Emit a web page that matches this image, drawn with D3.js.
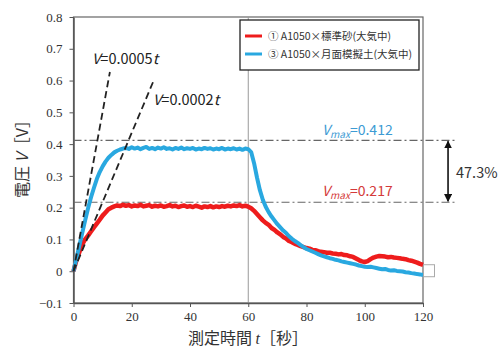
<!DOCTYPE html>
<html>
<head>
<meta charset="utf-8">
<script src="https://cdn.jsdelivr.net/npm/d3@7"></script>
<style>
  body { margin: 0; background: #fff; }
  svg { display: block; }
</style>
</head>
<body>
<div id="chart"></div>
<script>
// tick values
const xTicks = [0, 20, 40, 60, 80, 100, 120];
const yTicks = [-0.1, 0, 0.1, 0.2, 0.3, 0.4, 0.5, 0.6, 0.7, 0.8];

// measured voltage, one value per second (t = 0..120)
const redV = [
  0.000, 0.035, 0.060, 0.085, 0.100, 0.112, 0.125, 0.138, 0.150, 0.162,
  0.175, 0.185, 0.195, 0.200, 0.204, 0.207, 0.205, 0.209, 0.206, 0.208,
  0.204, 0.207, 0.205, 0.209, 0.204, 0.206, 0.208, 0.203, 0.206, 0.204,
  0.207, 0.203, 0.205, 0.208, 0.204, 0.206, 0.202, 0.205, 0.207, 0.203,
  0.205, 0.202, 0.206, 0.203, 0.200, 0.204, 0.202, 0.205, 0.201, 0.204,
  0.202, 0.205, 0.203, 0.206, 0.204, 0.207, 0.205, 0.208, 0.204, 0.206,
  0.203, 0.198, 0.190, 0.180, 0.170, 0.160, 0.152, 0.146, 0.136, 0.130,
  0.122, 0.116, 0.108, 0.103, 0.095, 0.091, 0.086, 0.083, 0.079, 0.076,
  0.073, 0.071, 0.067, 0.066, 0.063, 0.061, 0.060, 0.058, 0.058, 0.056,
  0.055, 0.053, 0.054, 0.051, 0.050, 0.047, 0.045, 0.040, 0.035, 0.031,
  0.029, 0.032, 0.038, 0.043, 0.046, 0.048, 0.047, 0.046, 0.044, 0.045,
  0.043, 0.042, 0.041, 0.039, 0.038, 0.035, 0.033, 0.030, 0.027, 0.023,
  0.020
];
const blueV = [
  0.000, 0.040, 0.080, 0.120, 0.160, 0.198, 0.232, 0.262, 0.290, 0.312,
  0.330, 0.345, 0.357, 0.366, 0.374, 0.379, 0.383, 0.386, 0.388, 0.385,
  0.390, 0.386, 0.389, 0.384, 0.388, 0.391, 0.385, 0.388, 0.384, 0.389,
  0.386, 0.390, 0.385, 0.387, 0.383, 0.388, 0.385, 0.389, 0.384, 0.387,
  0.385, 0.388, 0.383, 0.386, 0.384, 0.388, 0.385, 0.387, 0.383, 0.386,
  0.384, 0.388, 0.383, 0.386, 0.384, 0.387, 0.383, 0.386, 0.382, 0.386,
  0.384, 0.375, 0.340, 0.295, 0.255, 0.225, 0.203, 0.186, 0.172, 0.160,
  0.148, 0.138, 0.128, 0.120, 0.110, 0.102, 0.095, 0.089, 0.082, 0.076,
  0.070, 0.066, 0.062, 0.058, 0.054, 0.050, 0.047, 0.044, 0.041, 0.039,
  0.036, 0.034, 0.031, 0.029, 0.027, 0.025, 0.023, 0.021, 0.018, 0.016,
  0.014, 0.013, 0.014, 0.012, 0.010, 0.008, 0.006, 0.007, 0.004, 0.002,
  0.003, 0.001, 0.000, -0.001, -0.003, -0.004, -0.006, -0.007, -0.009, -0.010,
  -0.012
];

const seriesNames = ["① A1050×標準砂(大気中)", "③ A1050×月面模擬土(大気中)"];
const seriesColors = ["#ee1c1c", "#29a8e0"];

// guide lines [t, V] end points
const fastLine = [[0, 0], [12.5, 0.627]];
const slowLine = [[0, 0], [27.3, 0.595]];
const vmaxBlue = 0.412;
const vmaxRed = 0.217;

const width = 499, height = 349;
const margin = { top: 17, right: 76, bottom: 46, left: 73.5 };
const plotW = width - margin.left - margin.right;
const plotH = height - margin.top - margin.bottom;

const svg = d3.select("#chart").append("svg")
  .attr("width", width)
  .attr("height", height);

const x = d3.scaleLinear().domain([0, 120]).range([margin.left, margin.left + plotW]);
const y = d3.scaleLinear().domain([-0.1, 0.8]).range([margin.top + plotH, margin.top]);

// frame
svg.append("rect")
  .attr("x", x(0)).attr("y", y(0.8))
  .attr("width", x(120) - x(0)).attr("height", y(-0.1) - y(0.8))
  .attr("fill", "none").attr("stroke", "#666").attr("stroke-width", 1.2);

// vertical line at t=60
svg.append("line")
  .attr("x1", x(60)).attr("x2", x(60))
  .attr("y1", y(0.8)).attr("y2", y(-0.1))
  .attr("stroke", "#999").attr("stroke-width", 1);

// axes
const xAxis = svg.append("g")
  .attr("transform", `translate(0,${y(-0.1)})`)
  .call(d3.axisBottom(x).tickValues(xTicks).tickSize(4).tickSizeOuter(0));
const yAxis = svg.append("g")
  .attr("transform", `translate(${x(0)},0)`)
  .call(d3.axisLeft(y).tickValues(yTicks).tickSize(4).tickSizeOuter(0)
    .tickFormat(d => d3.format(".1~f")(d)));

[xAxis, yAxis].forEach(g => {
  g.select(".domain").attr("stroke", "#555").attr("stroke-width", 1.5);
  g.selectAll(".tick line").attr("stroke", "#555");
  g.selectAll("text")
    .attr("font-family", "'Liberation Serif', 'Times New Roman', serif")
    .attr("font-size", 13).attr("fill", "#333");
});
xAxis.selectAll("text").attr("dy", "0.85em");
yAxis.selectAll("text").attr("dx", "-0.3em");

// dash-dot Vmax lines
[vmaxBlue, vmaxRed].forEach(v => {
  svg.append("line")
    .attr("x1", x(0)).attr("x2", x(131))
    .attr("y1", y(v)).attr("y2", y(v))
    .attr("stroke", "#666").attr("stroke-width", 1.2)
    .attr("stroke-dasharray", "8,3,2,3");
});

// data lines
const line = d3.line()
  .x((d, i) => x(i))
  .y(d => y(d));

[redV, blueV].forEach((vals, i) => {
  svg.append("path")
    .datum(vals)
    .attr("fill", "none")
    .attr("stroke", seriesColors[i])
    .attr("stroke-width", i === 0 ? 4.5 : 4)
    .attr("stroke-linejoin", "round")
    .attr("d", line);
});

// dashed slope lines
const guide = d3.line().x(d => x(d[0])).y(d => y(d[1]));
[fastLine, slowLine].forEach(pts => {
  svg.append("path")
    .datum(pts)
    .attr("fill", "none")
    .attr("stroke", "#222")
    .attr("stroke-width", 1.8)
    .attr("stroke-dasharray", "7,4")
    .attr("d", guide);
});

const sans = "'Noto Sans CJK JP', 'Noto Sans', sans-serif";

function slopeLabel(tx, ty, coef) {
  const t = svg.append("text")
    .attr("x", tx).attr("y", ty)
    .attr("font-family", sans).attr("font-size", 14.5).attr("fill", "#222");
  t.append("tspan").attr("font-style", "italic").text("V");
  t.append("tspan").text("=" + coef);
  t.append("tspan").attr("font-style", "italic").text("t");
}
slopeLabel(92, 64, "0.0005");
slopeLabel(153, 105, "0.0002");

function vmaxLabel(v, color, ty) {
  const t = svg.append("text")
    .attr("x", 322).attr("y", ty)
    .attr("font-family", sans).attr("font-size", 14).attr("fill", color);
  t.append("tspan").attr("font-style", "italic").text("V");
  t.append("tspan").attr("font-style", "italic").attr("font-size", 10).attr("dy", 3).text("max");
  t.append("tspan").attr("dy", -3).text("=" + v.toFixed(3));
}
vmaxLabel(vmaxBlue, "#3d9bd4", 135);
vmaxLabel(vmaxRed, "#d43a3a", 196);

// double arrow
const defs = svg.append("defs");
defs.append("marker")
  .attr("id", "ah").attr("viewBox", "0 0 10 10")
  .attr("refX", 9).attr("refY", 5)
  .attr("markerWidth", 5).attr("markerHeight", 5)
  .attr("orient", "auto-start-reverse")
  .append("path").attr("d", "M0,0L10,5L0,10z").attr("fill", "#111");
svg.append("line")
  .attr("x1", x(128.6)).attr("x2", x(128.6))
  .attr("y1", y(vmaxBlue) + 1).attr("y2", y(vmaxRed) - 1)
  .attr("stroke", "#111").attr("stroke-width", 1.6)
  .attr("marker-start", "url(#ah)").attr("marker-end", "url(#ah)");
svg.append("text")
  .attr("x", 456).attr("y", 178)
  .attr("font-family", sans).attr("font-size", 14.5).attr("fill", "#333")
  .text("47.3%");

// small square marker at right edge
svg.append("rect")
  .attr("x", x(120) + 0.5).attr("y", y(0) - 6.5)
  .attr("width", 11).attr("height", 12)
  .attr("fill", "none").attr("stroke", "#aaa").attr("stroke-width", 1);

// legend
const lg = svg.append("g").attr("transform", "translate(240,20)");
lg.append("rect")
  .attr("width", 179).attr("height", 50)
  .attr("fill", "#fff").attr("stroke", "#222").attr("stroke-width", 1.3);
seriesNames.forEach((name, i) => {
  const ly = 16 + i * 18;
  lg.append("line")
    .attr("x1", 5).attr("x2", 22).attr("y1", ly).attr("y2", ly)
    .attr("stroke", seriesColors[i]).attr("stroke-width", 3);
  lg.append("text")
    .attr("x", 28).attr("y", ly + 4)
    .attr("font-family", sans).attr("font-size", 10.5).attr("fill", "#333")
    .text(name);
});

// axis titles
const xt = svg.append("text")
  .attr("x", 248).attr("y", 344)
  .attr("text-anchor", "middle")
  .attr("font-family", sans).attr("font-size", 16).attr("fill", "#333");
xt.append("tspan").text("測定時間 ");
xt.append("tspan").attr("font-style", "italic").attr("font-family", "'Liberation Serif', serif").text("t");
xt.append("tspan").text("［秒］");

const yt = svg.append("text")
  .attr("transform", "translate(28,155) rotate(-90)")
  .attr("text-anchor", "middle")
  .attr("font-family", sans).attr("font-size", 16).attr("fill", "#333");
yt.append("tspan").text("電圧 ");
yt.append("tspan").attr("font-style", "italic").text("V");
yt.append("tspan").text("［V］");
</script>
</body>
</html>
